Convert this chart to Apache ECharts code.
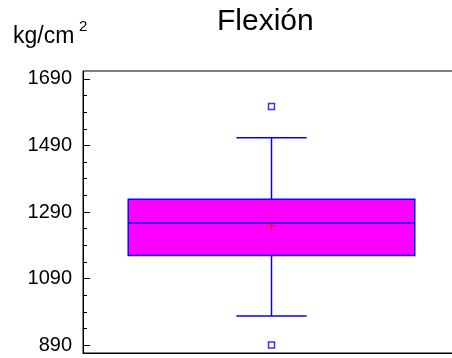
<!DOCTYPE html>
<html>
<head>
<meta charset="utf-8">
<script src="https://cdn.jsdelivr.net/npm/echarts@6/dist/echarts.min.js"></script>
<style>html,body{margin:0;padding:0;background:#fff}#c{width:452px;height:358px}</style>
</head>
<body>
<div id="c"></div>
<script>
// Data
var categories = ['Flexión'];
var boxStats = [977, 1159, 1257, 1328, 1513]; // min, Q1, median, Q3, max (whiskers)
var meanValue = 1248;
var outliers = [1607, 890];
var majorTicks = [890, 1090, 1290, 1490, 1690];
var minorTicks = [940, 990, 1040, 1140, 1190, 1240, 1340, 1390, 1440, 1540, 1590, 1640];
var axisMin = 866, axisMax = 1714;

var FONT = "'Liberation Sans', Arial, sans-serif";
var BLUE = '#0000ff', MAG = '#ff00ff', RED = '#ff0000';

var chart = echarts.init(document.getElementById('c'), null, {renderer: 'canvas'});
chart.setOption({
  animation: false,
  backgroundColor: '#fff',
  title: [
    {text: 'Flexión', left: 217, top: 7, padding: 0, textStyle: {fontFamily: FONT, fontSize: 30, fontWeight: 'normal', color: '#000'}},
    {text: 'kg/cm', left: 13, top: 25, padding: 0, textStyle: {fontFamily: FONT, fontSize: 23, fontWeight: 'normal', color: '#000'}},
    {text: '2', left: 79, top: 19, padding: 0, textStyle: {fontFamily: FONT, fontSize: 15, fontWeight: 'normal', color: '#000'}}
  ],
  grid: {left: 83, width: 377, top: 71, bottom: 5, outerBoundsMode: 'none', containLabel: false,
         show: true, borderColor: '#000', borderWidth: 1, backgroundColor: 'transparent'},
  xAxis: {
    type: 'category', data: categories,
    axisLine: {show: true, lineStyle: {color: '#000', width: 1}},
    axisTick: {show: false}, axisLabel: {show: false}, splitLine: {show: false}
  },
  yAxis: [
    {
      type: 'value', min: axisMin, max: axisMax,
      axisLine: {show: true, lineStyle: {color: '#000', width: 1}},
      axisTick: {show: true, inside: true, length: 7, lineStyle: {color: '#000'}, customValues: majorTicks},
      axisLabel: {show: true, customValues: majorTicks, margin: 11, fontFamily: FONT, fontSize: 20, color: '#000',
        formatter: function (v) { return String(v); }},
      splitLine: {show: false}
    },
    {
      type: 'value', min: axisMin, max: axisMax, position: 'left', offset: 0,
      axisLine: {show: false},
      axisTick: {show: true, inside: true, length: 4, lineStyle: {color: '#000'}, customValues: minorTicks},
      axisLabel: {show: false}, splitLine: {show: false}
    }
  ],
  series: [
    {
      type: 'custom',
      yAxisIndex: 0,
      data: [[0].concat(boxStats)],
      encode: {x: 0, y: [1, 2, 3, 4, 5]},
      renderItem: function (params, api) {
        var cat = api.value(0);
        var band = api.size([1, 0])[0];
        var pMin = api.coord([cat, api.value(1)]);
        var pQ1 = api.coord([cat, api.value(2)]);
        var pMed = api.coord([cat, api.value(3)]);
        var pQ3 = api.coord([cat, api.value(4)]);
        var pMax = api.coord([cat, api.value(5)]);
        var cx = pMed[0];
        var halfBox = band * 0.38;
        var halfCap = band * 0.093;
        var ls = {stroke: BLUE, lineWidth: 1.5};
        return {
          type: 'group',
          children: [
            {type: 'line', shape: {x1: cx, y1: pMax[1], x2: cx, y2: pQ3[1]}, style: ls},
            {type: 'line', shape: {x1: cx, y1: pQ1[1], x2: cx, y2: pMin[1]}, style: ls},
            {type: 'line', shape: {x1: cx - halfCap, y1: pMax[1], x2: cx + halfCap, y2: pMax[1]}, style: ls},
            {type: 'line', shape: {x1: cx - halfCap, y1: pMin[1], x2: cx + halfCap, y2: pMin[1]}, style: ls},
            {type: 'rect', shape: {x: cx - halfBox, y: pQ3[1], width: halfBox * 2, height: pQ1[1] - pQ3[1]},
             style: {fill: MAG, stroke: BLUE, lineWidth: 1.5}},
            {type: 'line', shape: {x1: cx - halfBox, y1: pMed[1], x2: cx + halfBox, y2: pMed[1]}, style: ls}
          ]
        };
      },
      z: 2
    },
    {
      type: 'custom',
      yAxisIndex: 0,
      data: [[0, meanValue]],
      encode: {x: 0, y: 1},
      renderItem: function (params, api) {
        var p = api.coord([api.value(0), api.value(1)]);
        var s = {stroke: RED, lineWidth: 1};
        return {
          type: 'group',
          children: [
            {type: 'line', shape: {x1: p[0] - 4, y1: p[1], x2: p[0] + 4, y2: p[1]}, style: s},
            {type: 'line', shape: {x1: p[0], y1: p[1] - 4, x2: p[0], y2: p[1] + 4}, style: s}
          ]
        };
      },
      z: 3
    },
    {
      type: 'scatter',
      yAxisIndex: 0,
      data: outliers.map(function (v) { return [0, v]; }),
      symbol: 'rect', symbolSize: 6,
      itemStyle: {color: '#fff', borderColor: BLUE, borderWidth: 1.5},
      z: 3
    }
  ]
});
</script>
</body>
</html>
